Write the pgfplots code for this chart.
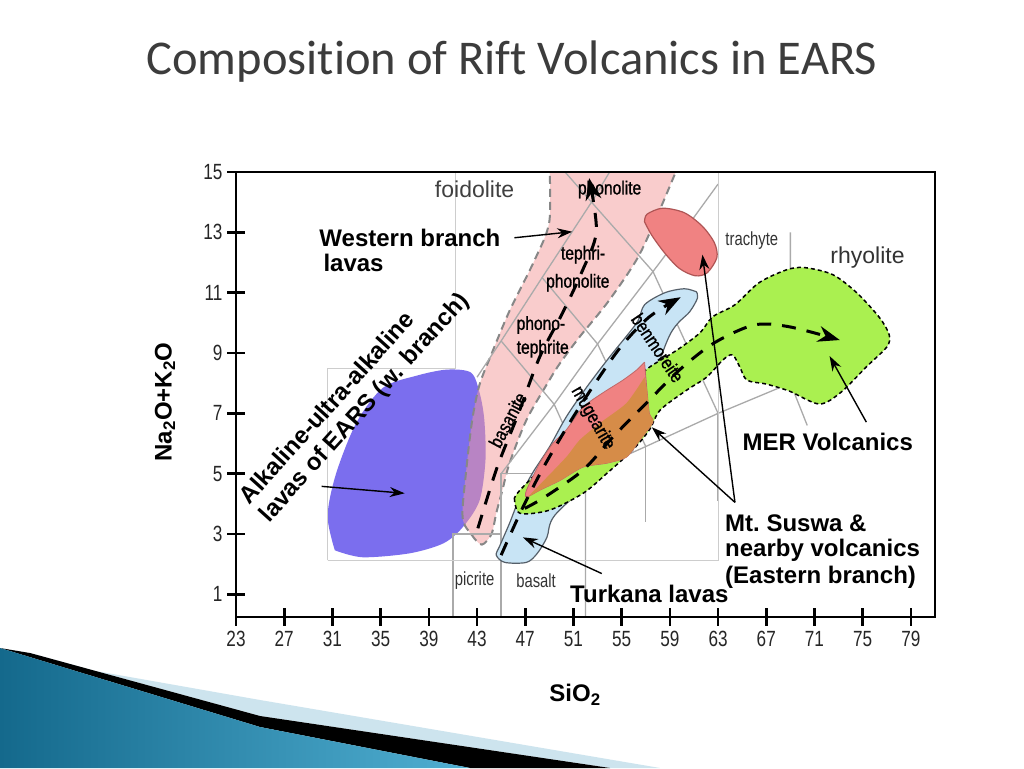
\documentclass[border=0pt]{standalone}
\usepackage{pgfplots}
\pgfplotsset{compat=1.18}
\usepackage{fontspec}
\setmainfont{Liberation Sans}
\newfontfamily\narrowfont[FakeStretch=0.78]{Liberation Sans}
\newfontfamily\narrowfontb[FakeStretch=0.82,FakeBold=1]{Liberation Sans}
\newfontfamily\titlefont[Ligatures=NoCommon]{Carlito}
\usetikzlibrary{arrows.meta}
\definecolor{purp}{RGB}{123,110,238}
\definecolor{pinkfill}{RGB}{245,155,155}
\definecolor{pinkedge}{RGB}{135,135,135}
\definecolor{bluefill}{RGB}{200,228,245}
\definecolor{blueedge}{RGB}{85,95,105}
\definecolor{greenfill}{RGB}{170,240,80}
\definecolor{salmonfill}{RGB}{240,130,130}
\definecolor{salmonedge}{RGB}{175,85,85}
\definecolor{orangefill}{RGB}{214,140,72}
\definecolor{tasgrey}{RGB}{170,170,170}
\definecolor{boxgrey}{RGB}{205,205,205}
\definecolor{titlegrey}{RGB}{60,60,60}
\definecolor{tealA}{RGB}{20,105,140}
\definecolor{tealB}{RGB}{80,175,210}
\definecolor{paleblue}{RGB}{205,228,238}
\tikzset{
  blab/.style={font=\bfseries\fontsize{24}{27}\selectfont},
  nlab/.style={font=\narrowfontb\fontsize{19}{21}\selectfont},
  nlabl/.style={font=\narrowfont\fontsize{19}{21}\selectfont, text=black!80},
}
\begin{document}
\begin{tikzpicture}[x=1pt,y=1pt]
\path[use as bounding box] (0,0) rectangle (1024,768);
\fill[white] (0,0) rectangle (1024,768);
% slide decoration
\fill[paleblue] (90,98) -- (260,68) -- (660,0) -- (610,0) -- (260,52) -- (30,115) -- cycle;
\fill[black] (30,115) -- (260,52) -- (610,0) -- (470,0) -- (260,41) -- (0,120) -- cycle;
\shade[left color=tealA, right color=tealB] (0,120) -- (260,41) -- (470,0) -- (0,0) -- cycle;
% title
\node[font=\titlefont\fontsize{48.5}{52}\selectfont, text=titlegrey] at (512,706) {Composition of Rift Volcanics in EARS};
% axis labels
\node[blab] at (575,73) {SiO\textsubscript{2}};
\node[blab, rotate=90] at (165,366) {Na\textsubscript{2}O+K\textsubscript{2}O};
\begin{axis}[
  at={(236pt,151pt)}, anchor=south west,
  scale only axis, width=699pt, height=445pt,
  xmin=23, xmax=81, ymin=0.25, ymax=15,
  xtick={23,27,...,79}, ytick={1,3,...,15},
  xtick pos=bottom, ytick pos=left,
  tick align=center,
  major tick length=18pt,
  axis line style={line width=2.6pt, black},
  tick style={line width=2.6pt, black},
  axis on top,
  /pgf/number format/assume math mode=true,
  ticklabel style={font=\narrowfont\fontsize{22}{22}\selectfont, text=black!85},
  xticklabel style={yshift=-2pt},
  yticklabel style={xshift=-1pt},
]
% purple field
\addplot[fill=purp, draw=none, smooth] coordinates {(31.2,2.46) (33.5,2.23) (37.4,2.36) (40.2,2.69) (41.8,3.22) (43.2,4.1) (43.7,5.45) (43.6,6.8) (43.2,7.7) (42.5,8.35) (40.5,8.45) (38.0,8.25) (35.2,7.85) (33.0,6.7) (31.3,5.0) (30.6,3.6) (31.2,2.46)};
% pink band (western branch)
\addplot[fill=pinkfill, fill opacity=0.5, draw=pinkedge, line width=2pt, dash pattern=on 8pt off 5pt, smooth] coordinates {(49.0,15.3) (49.0,13.36) (47.8,12.1) (45.7,10.4) (44.1,8.87) (43.2,7.94) (42.6,6.78) (42.1,5.1) (41.8,3.55) (42.6,2.95) (43.4,2.65) (44.2,3.0) (44.6,3.7) (45.1,4.45) (45.7,5.35) (47.1,6.78) (49.0,8.1) (49.9,8.67) (51.5,9.53) (53.8,10.66) (56.25,12.1) (57.9,13.5) (59.8,15.3)};
% TAS field boundaries
\addplot[tasgrey, line width=1.3pt] coordinates {(41,0.25) (41,3) (45,3)};
\addplot[tasgrey, line width=1.3pt] coordinates {(45,0.25) (45,5) (52,5)};
\addplot[tasgrey, line width=1.3pt] coordinates {(52,0.25) (52,5) (57,5.9) (63,7) (69,8) (69,13)};
\addplot[tasgrey, line width=1.3pt] coordinates {(57,3.4) (57,5.9)};
\addplot[tasgrey, line width=1.3pt] coordinates {(63,4.1) (63,7)};
\addplot[tasgrey, line width=1.3pt] coordinates {(69,8) (70.4,6.6)};
\addplot[tasgrey, line width=1.3pt] coordinates {(43,8.2) (45,9.4) (48.4,11.5) (52.5,14) (54,15)};
\addplot[tasgrey, line width=1.3pt] coordinates {(45,5) (49.4,7.3) (53,9.3) (57.6,11.7) (61,13.5) (63,14.6)};
\addplot[tasgrey, line width=1.3pt] coordinates {(45,9.4) (49.4,7.3) (52,5)};
\addplot[tasgrey, line width=1.3pt] coordinates {(48.4,11.5) (53,9.3) (57,5.9)};
\addplot[tasgrey, line width=1.3pt] coordinates {(50.3,15) (52.5,14) (57.6,11.7) (63,7)};
% frame of the inset diagram
\addplot[boxgrey, line width=1pt] coordinates {(30.6,2.13) (30.6,8.5) (41.2,8.5) (41.2,15)};
\addplot[boxgrey, line width=1pt] coordinates {(30.6,2.13) (63,2.13) (63,15)};
% Turkana lavas (blue)
\addplot[fill=bluefill, draw=blueedge, line width=1.2pt, smooth] coordinates {(61.2,11.03) (60.2,11.13) (58.6,11.0) (56.9,10.6) (56.25,10.0) (54.0,8.87) (52.1,7.87) (50.4,6.88) (49.0,5.88) (47.6,5.02) (46.55,4.22) (45.7,3.36) (44.9,2.62) (44.6,2.3) (45.3,2.06) (47.1,2.06) (48.0,2.36) (48.8,2.89) (49.45,3.62) (53.2,5.1) (56.5,7.1) (59.0,9.6) (60.65,10.37) (61.3,10.83) (61.2,11.03)};
% MER volcanics (green)
\addplot[fill=greenfill, draw=black, line width=1.5pt, dash pattern=on 4pt off 3pt, smooth, tension=0.5] coordinates {(46.1,4.19) (46.55,3.69) (49.0,3.79) (51.8,4.35) (53.8,5.02) (55.9,5.78) (57.3,6.45) (58.2,7.11) (60.4,7.77) (62.05,8.2) (63.4,8.77) (64.2,8.94) (64.8,8.54) (65.4,8.1) (67.0,7.97) (68.9,7.74) (71.4,7.31) (73.2,7.7) (75.3,8.54) (77.0,9.2) (77.2,9.6) (76.4,10.17) (74.5,11.0) (72.5,11.6) (70.2,11.83) (68.7,11.76) (66.4,11.33) (64.4,10.6) (62.55,10.2) (61.5,9.67) (59.6,9.1) (57.2,8.5) (55.7,7.94) (53.2,7.11) (50.7,6.11) (48.6,5.28) (46.55,4.45) (46.1,4.19)};
% Mt Suswa (salmon + orange)
\addplot[fill=salmonfill, draw=salmonfill!80!black, line width=0.8pt, smooth, tension=0.4] coordinates {(56.9,8.7) (57.1,7.77) (57.3,7.0) (57.6,6.71) (56.5,6.11) (55.4,5.55) (53.8,5.35) (51.8,5.22) (49.9,4.78) (48.2,4.45) (47.1,4.22) (47.1,4.45) (48.2,5.35) (49.3,6.01) (50.4,6.45) (51.8,7.21) (53.4,7.67) (55.1,8.1) (56.25,8.44) (56.9,8.7)};
\addplot[fill=orangefill, draw=none, smooth, tension=0.4] coordinates {(56.9,8.2) (57.1,7.77) (57.3,7.0) (57.6,6.71) (56.5,6.11) (55.4,5.55) (53.8,5.35) (51.8,5.22) (49.9,4.78) (48.2,4.45) (47.3,4.25) (48.0,4.55) (50.4,5.55) (51.5,6.11) (53.2,6.68) (55.4,7.34) (56.9,8.2)};
% Mt Suswa trachyte blob
\addplot[fill=salmonfill, draw=salmonedge, line width=1.2pt, smooth] coordinates {(56.9,13.35) (57.1,13.6) (58.4,13.8) (60.2,13.65) (61.7,13.2) (62.7,12.65) (62.9,12.16) (62.1,11.66) (61.1,11.56) (59.8,11.8) (58.6,12.3) (57.5,12.9) (56.9,13.35)};
% trend arrows (dashed)
\addplot[black, line width=3pt, dash pattern=on 14pt off 11pt, smooth, -{Stealth[length=22pt,width=16pt]}] coordinates {(43.07,3.19) (44.64,5.18) (46.38,6.94) (48.2,8.87) (50.1,10.33) (51.7,11.69) (52.9,13.02) (52.3,14.8)};
\addplot[black, line width=3pt, dash pattern=on 14pt off 11pt, smooth, -{Stealth[length=22pt,width=16pt]}] coordinates {(45.0,2.3) (46.7,3.8) (48.5,5.2) (50.7,6.7) (52.8,8.0) (55.0,9.24) (57.3,10.2) (59.9,10.85)};
\addplot[black, line width=3pt, dash pattern=on 14pt off 11pt, smooth, -{Stealth[length=22pt,width=16pt]}] coordinates {(46.96,3.85) (48.6,4.22) (51.8,5.12) (54.26,6.21) (56.9,7.28) (59.8,8.44) (62.7,9.34) (66.0,9.93) (68.9,9.87) (73.1,9.43)};
% pointer arrows
\addplot[black, line width=1.4pt, -{Stealth[length=15pt,width=10pt]}] coordinates {(46.1,12.82) (50.9,13.02)};
\addplot[black, line width=1.4pt, -{Stealth[length=15pt,width=10pt]}] coordinates {(30.1,4.58) (37.0,4.35)};
\addplot[black, line width=1.4pt, -{Stealth[length=15pt,width=10pt]}] coordinates {(53.35,1.69) (46.8,2.89)};
\addplot[black, line width=1.4pt, -{Stealth[length=15pt,width=10pt]}] coordinates {(64.4,4.05) (61.7,12.26)};
\addplot[black, line width=1.4pt, -{Stealth[length=15pt,width=10pt]}] coordinates {(64.4,4.05) (57.5,6.54)};
\addplot[black, line width=1.4pt, -{Stealth[length=15pt,width=10pt]}] coordinates {(75.3,6.71) (72.25,8.9)};
% field names
\node[font=\fontsize{23}{25}\selectfont, text=black!75] at (axis cs:42.8,14.42) {foidolite};
\node[nlab] at (axis cs:54.0,14.42) {phonolite};
\node[nlab] at (axis cs:51.8,12.26) {tephri-};
\node[nlab] at (axis cs:51.36,11.33) {phonolite};
\node[nlab] at (axis cs:48.3,9.93) {phono-};
\node[nlab] at (axis cs:48.45,9.14) {tephrite};
\node[nlab, rotate=62] at (axis cs:45.55,6.78) {basanite};
\node[nlab, rotate=-56] at (axis cs:58.0,9.17) {benmoreite};
\node[nlab, rotate=-60] at (axis cs:52.6,6.84) {mugearite};
\node[nlabl] at (axis cs:65.8,12.72) {trachyte};
\node[font=\fontsize{23}{25}\selectfont, text=black!80] at (axis cs:75.4,12.16) {rhyolite};
\node[nlabl] at (axis cs:42.8,1.46) {picrite};
\node[nlabl] at (axis cs:47.9,1.46) {basalt};
% group labels
\node[blab, anchor=west] at (axis cs:29.63,12.82) {Western branch};
\node[blab, anchor=west] at (axis cs:29.97,12.0) {lavas};
\node[blab, rotate=48, align=left] at (axis cs:32.87,7.47) {Alkaline-ultra-alkaline\\lavas of EARS (w. branch)};
\node[blab] at (axis cs:57.3,1.03) {Turkana lavas};
\node[blab, anchor=west] at (axis cs:63.3,3.36) {Mt.\ Suswa \&};
\node[blab, anchor=west] at (axis cs:63.3,2.46) {nearby volcanics};
\node[blab, anchor=west] at (axis cs:63.3,1.56) {(Eastern branch)};
\node[blab] at (axis cs:72.1,6.05) {MER Volcanics};
\end{axis}
\end{tikzpicture}
\end{document}
